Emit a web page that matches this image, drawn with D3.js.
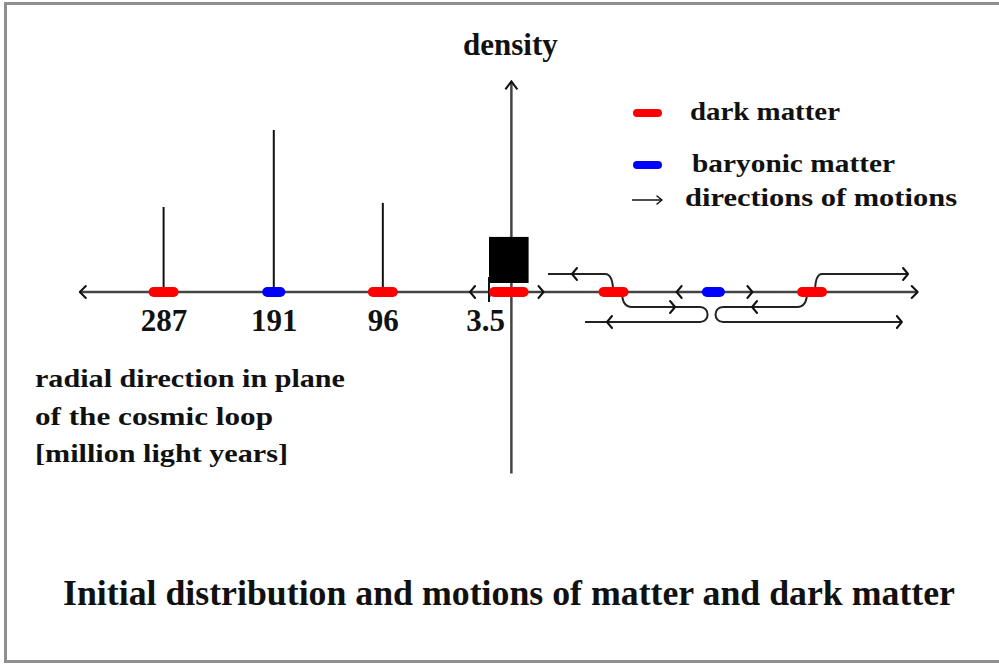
<!DOCTYPE html>
<html>
<head>
<meta charset="utf-8">
<script src="https://cdn.jsdelivr.net/npm/d3@7"></script>
<style>
  body { margin: 0; background: #fff; overflow: hidden; }
  svg { display: block; }
  text { font-family: "Liberation Serif", "Times New Roman", serif; font-weight: bold; fill: #111; }
</style>
</head>
<body>
<svg id="SVG_CONTAINER" width="999" height="666"></svg>
<script>
let d3 = window.d3;

// radial distance of the ticks [million light years]
const tickValues = [287, 191, 96, 3.5];
const tickLabels = ["287", "191", "96", "3.5"];

// density spikes over the ticks (relative, 191 = 1)
const spikeAt = [287, 191, 96];
const spikeDensity = [0.525, 1.0, 0.55];

// central clump
const coreFrom = 3.5;
const coreTo = -31;
const coreDensity = 0.34;

// matter blobs on the axis (negative = other side of the centre)
const blobAt = [287, 191, 96, -105, -192, -278];
const blobKind = ["dark", "baryonic", "dark", "dark", "baryonic", "dark"];

// extent of the radial axis and of the density axis
const axisExtent = [360, -370];
const densityAxisAt = -16;
const densityExtent = [-1.12, 1.3];

// arrowheads sitting on the axis line
const axisHeadAt = [20, -44, -160, -226];
const axisHeadDir = [-1, 1, -1, 1];

// motion paths: [distance, lane] (lane -1 above, 1 and 2 below)
const motions = [
  [[-104.6, 0], [-97.6, -1], [-47.9, -1]],
  [[-112.4, 0], [-121, 1], [-180.4, 1], [-180.4, 2], [-80.2, 2]],
  [[-280.6, 0], [-286.7, -1], [-361.6, -1]],
  [[-273.6, 0], [-264.9, 1], [-200.4, 1], [-200.4, 2], [-356.2, 2]],
];
// arrowheads on the motion paths: [distance, lane, direction]
const motionHeads = [
  [-68.8, -1, -1],
  [-158.6, 1, 1],
  [-99.3, 2, -1],
  [-361.6, -1, 1],
  [-225.7, 1, -1],
  [-356.2, 2, 1],
];

const legendLabels = ["dark matter", "baryonic matter", "directions of motions"];
const descLines = ["radial direction in plane", "of the cosmic loop", "[million light years]"];
const titleText = "Initial distribution and motions of matter and dark matter";

const colors = { dark: "#ff0000", baryonic: "#0000ff" };
const blobLen = { dark: 30, baryonic: 23 };

const svg = d3.select("#SVG_CONTAINER");
const axisY = 292;

const x = d3.scaleLinear().domain([287, 3.5]).range([163.6, 489]);
const y = d3.scaleLinear().domain([0, 1]).range([axisY, 130]);
const laneY = (lane) => axisY + (lane === -1 ? -18 : lane * 15);

// frame (right edge falls outside the picture)
svg
  .append("path")
  .attr("d", "M1010,3.5H5.5V661.5H1010")
  .attr("fill", "none")
  .attr("stroke", "#8f8f8f")
  .attr("stroke-width", 3);

const chevron = (sel, px, py, dir, w = 6, h = 6) =>
  sel
    .append("path")
    .attr("d", `M${px - dir * w},${py - h}L${px},${py}L${px - dir * w},${py + h}`)
    .attr("fill", "none")
    .attr("stroke", "#111")
    .attr("stroke-width", 2)
    .attr("stroke-linecap", "round")
    .attr("stroke-linejoin", "round");

// motion paths
const motionPath = (pts) => {
  const p = d3.path();
  let prevDir = 1;
  pts.forEach(([d, lane], i) => {
    const px = x(d);
    const py = laneY(lane);
    if (i === 0) {
      p.moveTo(px, py);
      return;
    }
    const [d0, lane0] = pts[i - 1];
    const px0 = x(d0);
    const py0 = laneY(lane0);
    if (lane0 === 0) {
      p.quadraticCurveTo(px0, py, px, py);
    } else if (d0 === d) {
      p.bezierCurveTo(px0 + prevDir * 10, py0, px + prevDir * 10, py, px, py);
    } else {
      p.lineTo(px, py);
    }
    if (px !== px0) prevDir = px > px0 ? 1 : -1;
  });
  return p.toString();
};

svg
  .append("g")
  .selectAll("path")
  .data(motions)
  .enter()
  .append("path")
  .attr("d", motionPath)
  .attr("fill", "none")
  .attr("stroke", "#222")
  .attr("stroke-width", 2);

motionHeads.forEach(([d, lane, dir]) => chevron(svg, x(d), laneY(lane), dir, 5, 6));

// radial axis
svg
  .append("line")
  .attr("x1", x(axisExtent[0]))
  .attr("x2", x(axisExtent[1]))
  .attr("y1", axisY)
  .attr("y2", axisY)
  .attr("stroke", "#444")
  .attr("stroke-width", 2.5);

chevron(svg, x(axisExtent[0]), axisY, -1, 6, 6);
chevron(svg, x(axisExtent[1]), axisY, 1, 6, 6);
axisHeadAt.forEach((d, i) => chevron(svg, x(d), axisY, axisHeadDir[i], 5, 6));

// ticks and labels
const xAxis = d3
  .axisBottom(x)
  .tickValues(tickValues)
  .tickFormat((d, i) => tickLabels[i])
  .tickSize(5)
  .tickPadding(12);

const xAxisG = svg.append("g").attr("transform", `translate(0,${axisY})`).call(xAxis);
xAxisG.select(".domain").remove();
xAxisG.attr("font-family", null).attr("font-size", null);
xAxisG.selectAll(".tick line").attr("stroke", "#111").attr("stroke-width", 2);
xAxisG
  .selectAll(".tick text")
  .attr("font-size", 31)
  .attr("fill", "#111")
  .attr("dx", (d) => (d === 3.5 ? -4 : 0));

// centre tick reaches above the axis
svg
  .append("line")
  .attr("x1", x(coreFrom))
  .attr("x2", x(coreFrom))
  .attr("y1", axisY - 15)
  .attr("y2", axisY + 10)
  .attr("stroke", "#111")
  .attr("stroke-width", 2);

// density spikes
svg
  .append("g")
  .selectAll("line")
  .data(spikeAt)
  .enter()
  .append("line")
  .attr("x1", (d) => x(d))
  .attr("x2", (d) => x(d))
  .attr("y1", (d, i) => y(spikeDensity[i]))
  .attr("y2", axisY + 5)
  .attr("stroke", "#111")
  .attr("stroke-width", 2);

// density axis
svg
  .append("line")
  .attr("x1", x(densityAxisAt))
  .attr("x2", x(densityAxisAt))
  .attr("y1", y(densityExtent[1]))
  .attr("y2", y(densityExtent[0]))
  .attr("stroke", "#444")
  .attr("stroke-width", 2.5);

svg
  .append("path")
  .attr(
    "d",
    `M${x(densityAxisAt) - 6},${y(densityExtent[1]) + 8}L${x(densityAxisAt)},${y(densityExtent[1])}L${x(densityAxisAt) + 6},${y(densityExtent[1]) + 8}`
  )
  .attr("fill", "none")
  .attr("stroke", "#111")
  .attr("stroke-width", 2);

svg
  .append("text")
  .attr("x", x(densityAxisAt) - 1)
  .attr("y", 55)
  .attr("text-anchor", "middle")
  .attr("font-size", 31)
  .text("density");

// central clump
svg
  .append("rect")
  .attr("x", x(coreFrom))
  .attr("y", y(coreDensity))
  .attr("width", x(coreTo) - x(coreFrom))
  .attr("height", axisY - 9 - y(coreDensity))
  .attr("fill", "#000");

// blobs
svg
  .append("line")
  .attr("x1", x(coreFrom) + 5)
  .attr("x2", x(coreTo) - 5)
  .attr("y1", axisY)
  .attr("y2", axisY)
  .attr("stroke", colors.dark)
  .attr("stroke-width", 10)
  .attr("stroke-linecap", "round");

svg
  .append("g")
  .selectAll("line")
  .data(blobAt)
  .enter()
  .append("line")
  .attr("x1", (d, i) => x(d) - (blobLen[blobKind[i]] - 10) / 2)
  .attr("x2", (d, i) => x(d) + (blobLen[blobKind[i]] - 10) / 2)
  .attr("y1", axisY)
  .attr("y2", axisY)
  .attr("stroke", (d, i) => colors[blobKind[i]])
  .attr("stroke-width", 10)
  .attr("stroke-linecap", "round");

// legend
const legend = svg.append("g");
const legendY = [113, 165, 200];
const legendTextX = [690, 692, 685];
const legendTextY = [120, 172, 206];
const legendTextW = [150, 203, 272];

["dark", "baryonic"].forEach((k, i) => {
  legend
    .append("line")
    .attr("x1", 637)
    .attr("x2", 658)
    .attr("y1", legendY[i])
    .attr("y2", legendY[i])
    .attr("stroke", colors[k])
    .attr("stroke-width", 8)
    .attr("stroke-linecap", "round");
});

legend
  .append("line")
  .attr("x1", 632)
  .attr("x2", 662)
  .attr("y1", legendY[2])
  .attr("y2", legendY[2])
  .attr("stroke", "#111")
  .attr("stroke-width", 1.5);
chevron(legend, 662, legendY[2], 1, 5, 4).attr("stroke-width", 1.5);

legend
  .selectAll("text")
  .data(legendLabels)
  .enter()
  .append("text")
  .attr("x", (d, i) => legendTextX[i])
  .attr("y", (d, i) => legendTextY[i])
  .attr("font-size", 25)
  .attr("textLength", (d, i) => legendTextW[i])
  .attr("lengthAdjust", "spacingAndGlyphs")
  .text((d) => d);

// axis description
const descW = [310, 238, 253];
svg
  .append("g")
  .selectAll("text")
  .data(descLines)
  .enter()
  .append("text")
  .attr("x", 35)
  .attr("y", (d, i) => 387 + i * 37.5)
  .attr("font-size", 25)
  .attr("textLength", (d, i) => descW[i])
  .attr("lengthAdjust", "spacingAndGlyphs")
  .text((d) => d);

// title
svg
  .append("text")
  .attr("x", 63)
  .attr("y", 605)
  .attr("font-size", 36)
  .attr("textLength", 892)
  .attr("lengthAdjust", "spacingAndGlyphs")
  .text(titleText);
</script>
</body>
</html>
